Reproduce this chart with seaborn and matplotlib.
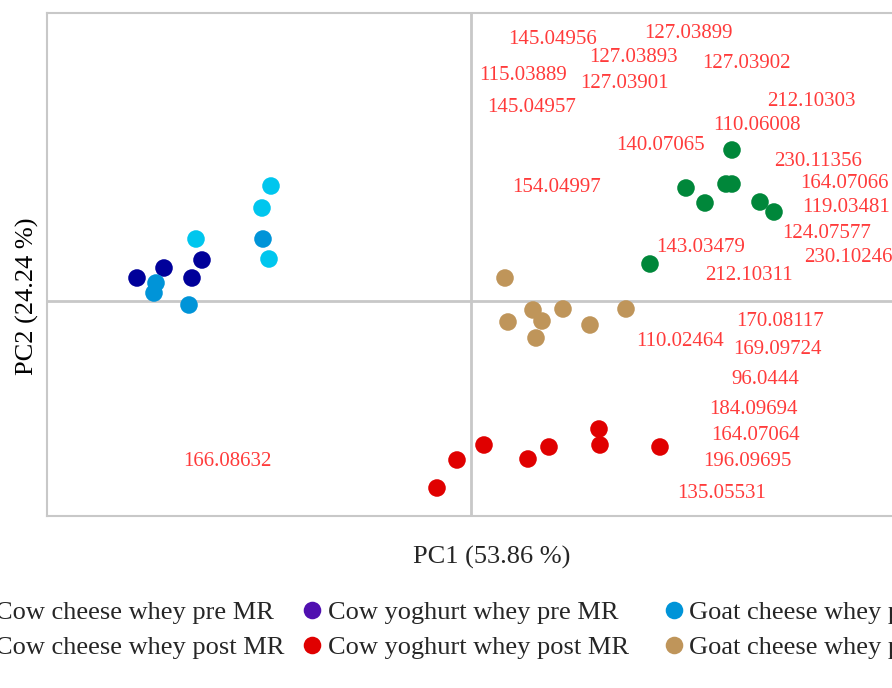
import matplotlib
matplotlib.use("Agg")
import matplotlib.pyplot as plt
import seaborn as sns
import pandas as pd

# ---- data (PC scores) ----
groups = ["Cow cheese whey pre MR", "Cow cheese whey post MR",
          "Cow yoghurt whey pre MR", "Cow yoghurt whey post MR",
          "Goat cheese whey pre MR", "Goat cheese whey post MR"]

cow_cheese_pre_x = [-2.75, -2.00, -2.09, -2.02]
cow_cheese_pre_y = [0.62, 1.15, 0.93, 0.42]
cow_yog_pre_x = [-3.34, -3.07, -2.79, -2.69]
cow_yog_pre_y = [0.23, 0.33, 0.23, 0.41]
goat_pre_x = [-3.15, -3.17, -2.82, -2.08]
goat_pre_y = [0.18, 0.08, -0.04, 0.62]
cow_cheese_post_x = [2.61, 2.15, 2.34, 2.55, 2.61, 2.89, 3.03, 1.79]
cow_cheese_post_y = [1.51, 1.13, 0.98, 1.17, 1.17, 0.99, 0.89, 0.37]
cow_yog_post_x = [-0.34, -0.14, 0.13, 0.57, 0.78, 1.28, 1.29, 1.89]
cow_yog_post_y = [-1.87, -1.59, -1.44, -1.58, -1.46, -1.28, -1.44, -1.46]
goat_post_x = [0.34, 0.37, 0.62, 0.71, 0.92, 0.65, 1.19, 1.55]
goat_post_y = [0.23, -0.21, -0.09, -0.20, -0.08, -0.37, -0.24, -0.08]

# loading labels (m/z) and their positions
label_text = ["145.04956", "127.03899", "127.03893", "127.03902", "115.03889",
              "127.03901", "145.04957", "212.10303", "110.06008", "140.07065",
              "230.11356", "154.04997", "164.07066", "119.03481", "124.07577",
              "143.03479", "230.10246", "212.10311", "170.08117", "110.02464",
              "169.09724", "96.0444", "184.09694", "164.07064", "196.09695",
              "135.05531", "166.08632"]
label_x = [0.82, 2.17, 1.62, 2.75, 0.52, 1.53, 0.61, 3.40, 2.86, 1.89,
           3.47, 0.86, 3.73, 3.75, 3.56, 2.30, 3.77, 2.78, 3.09, 2.09,
           3.06, 2.94, 2.82, 2.84, 2.76, 2.51, -2.44]
label_y = [2.62, 2.68, 2.43, 2.37, 2.26, 2.17, 1.94, 1.99, 1.76, 1.55,
           1.40, 1.13, 1.18, 0.94, 0.68, 0.54, 0.44, 0.25, -0.21, -0.41,
           -0.49, -0.78, -1.09, -1.34, -1.60, -1.93, -1.61]

palette = {
    "Cow cheese whey pre MR": "#00C6EE",
    "Cow cheese whey post MR": "#00873A",
    "Cow yoghurt whey pre MR": "#00009A",
    "Cow yoghurt whey post MR": "#E00000",
    "Goat cheese whey pre MR": "#0094D8",
    "Goat cheese whey post MR": "#BF955A",
}
legend_override = {"Cow yoghurt whey pre MR": "#5010B0"}

xs = [cow_cheese_pre_x, cow_cheese_post_x, cow_yog_pre_x, cow_yog_post_x, goat_pre_x, goat_post_x]
ys = [cow_cheese_pre_y, cow_cheese_post_y, cow_yog_pre_y, cow_yog_post_y, goat_pre_y, goat_post_y]
rows = []
for g, gx, gy in zip(groups, xs, ys):
    for a, b in zip(gx, gy):
        rows.append({"PC1": a, "PC2": b, "group": g})
df = pd.DataFrame(rows)

sns.set_theme(style="white")
plt.rcParams["font.family"] = ["Liberation Serif", "DejaVu Serif"]

fig = plt.figure(figsize=(8.92, 6.88), dpi=100)
ax = fig.add_axes([47 / 892, 172 / 688, 890 / 892, 503 / 688])

ax.axvline(0, color="#C8C8C8", lw=2.0, zorder=0)
ax.axhline(0, color="#C8C8C8", lw=2.0, zorder=0)

sns.scatterplot(data=df, x="PC1", y="PC2", hue="group", hue_order=groups,
                palette=palette, s=160, linewidth=0, ax=ax, zorder=3)

for t, x, y in zip(label_text, label_x, label_y):
    ax.text(x, y, t, color="#FF3B3B", fontsize=15, ha="center", va="center", zorder=4)

ax.set_xlim(-4.24, 4.66)
ax.set_ylim(-2.15, 2.88)
ax.set_xticks([])
ax.set_yticks([])
for sp in ax.spines.values():
    sp.set_color("#C8C8C8")
    sp.set_linewidth(1.5)

ax.set_xlabel("")
ax.set_ylabel("PC2 (24.24 %)", fontsize=19, color="black")
ax.yaxis.set_label_coords(-0.009, 0.437)
fig.text(492 / 892, 1 - 557 / 688, "PC1 (53.86 %)", fontsize=19, ha="center", va="center")

handles, labels = ax.get_legend_handles_labels()
ax.get_legend().remove()
hmap = dict(zip(labels, handles))
hs = []
for g in groups:
    h = hmap[g]
    if g in legend_override:
        h.set_color(legend_override[g])
        try:
            h.set_markerfacecolor(legend_override[g])
            h.set_markeredgecolor(legend_override[g])
        except Exception:
            pass
    hs.append(h)

leg_kw = dict(loc="upper left", frameon=False, fontsize=19, handlelength=0.8,
              handletextpad=0.2, columnspacing=1.3, labelspacing=0.42,
              borderpad=0, borderaxespad=0, markerscale=1.0)
# first legend column (Cow cheese whey)
leg1 = fig.legend(hs[:2], groups[:2], ncol=1,
                  bbox_to_anchor=(-31.7 / 892, 1 - 601 / 688), **leg_kw)
# remaining columns
leg2 = fig.legend(hs[2:], groups[2:], ncol=2,
                  bbox_to_anchor=(301.3 / 892, 1 - 601 / 688), **leg_kw)

fig.savefig("out.png", dpi=100)
